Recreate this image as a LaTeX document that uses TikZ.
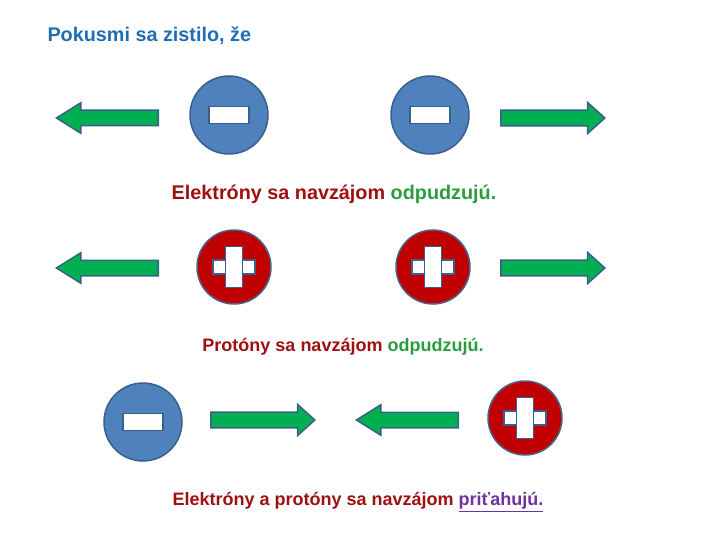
\documentclass[tikz,border=0pt]{standalone}
\usepackage{fontspec}
\setmainfont{Liberation Sans}
\usepackage{tikz}
\usetikzlibrary{shapes.arrows}

\definecolor{nadpis}{HTML}{1F6EB4}
\definecolor{cervena}{HTML}{9E1010}
\definecolor{zelena}{HTML}{2A9E3E}
\definecolor{fialova}{HTML}{7030A0}
\definecolor{modra}{HTML}{4F81BD}
\definecolor{okraj}{HTML}{3A5F8C}
\definecolor{cerv}{HTML}{C00000}
\definecolor{sipka}{HTML}{00B050}

\begin{document}
\begin{tikzpicture}[
    x=1pt, y=-1pt,
    font=\bfseries,
    elektron/.style={circle, draw=okraj, line width=1.5pt, fill=modra, minimum size=78pt, inner sep=0pt},
    proton/.style={circle, draw=okraj!80!gray, line width=1.5pt, fill=cerv, minimum size=74pt, inner sep=0pt},
    znak/.style={rectangle, draw=okraj, line width=1.2pt, fill=white, inner sep=0pt},
    sipkaL/.style={single arrow, shape border rotate=180, draw=okraj, line width=1.5pt, fill=sipka,
                   minimum height=102pt, minimum width=30pt, inner sep=7pt, single arrow head extend=7.5pt,
                   single arrow tip angle=64, anchor=tip},
    sipkaP/.style={single arrow, draw=okraj, line width=1.5pt, fill=sipka,
                   minimum height=104pt, minimum width=31pt, inner sep=7pt, single arrow head extend=7.5pt,
                   single arrow tip angle=84, anchor=tip},
    veta/.style={text=cervena}
]
\useasboundingbox (0,0) rectangle (720,540);

% ---- Title ----
\node[anchor=west, text=nadpis, font=\fontsize{19.8}{22}\selectfont\bfseries] (nadpis) at (44,36) {Pokusmi sa zistilo, že};

% ---- Row 1: two electrons ----
\node[sipkaL] (s1) at (55,118) {};
\node[elektron] (e1) at (229,115) {};
\node[znak, minimum width=40pt, minimum height=17pt] at (e1) {};
\node[elektron] (e2) at (430,115) {};
\node[znak, minimum width=40pt, minimum height=17pt] at (e2) {};
\node[sipkaP] (s2) at (606,118) {};
\node[veta, font=\fontsize{19.8}{22}\selectfont\bfseries] (t1) at (334,194) {Elektróny sa navzájom \textcolor{zelena}{odpudzujú.}};

% ---- Row 2: two protons ----
\node[sipkaL] (s3) at (55,268) {};
\node[proton] (p1) at (234,267) {};
\node[znak, minimum width=42pt, minimum height=14pt] at (p1) {};
\node[znak, minimum width=17pt, minimum height=41pt] at (p1) {};
\node[proton] (p2) at (433,267) {};
\node[znak, minimum width=42pt, minimum height=14pt] at (p2) {};
\node[znak, minimum width=17pt, minimum height=41pt] at (p2) {};
\node[sipkaP] (s4) at (606,268) {};
\node[veta, font=\fontsize{18}{21}\selectfont\bfseries] (t2) at (343,347) {Protóny sa navzájom \textcolor{zelena}{odpudzujú.}};

% ---- Row 3: electron and proton ----
\node[elektron] (e3) at (143,422) {};
\node[znak, minimum width=40pt, minimum height=17pt] at (e3) {};
\node[sipkaP] (s5) at (316,420) {};
\node[sipkaL] (s6) at (355,420) {};
\node[proton] (p3) at (525,418) {};
\node[znak, minimum width=42pt, minimum height=14pt] at (p3) {};
\node[znak, minimum width=17pt, minimum height=41pt] at (p3) {};
\node[veta, font=\fontsize{18}{21}\selectfont\bfseries] (t3) at (358,502) {Elektróny a protóny sa navzájom \textcolor{fialova}{\underline{priťahujú.}}};

\end{tikzpicture}
\end{document}
